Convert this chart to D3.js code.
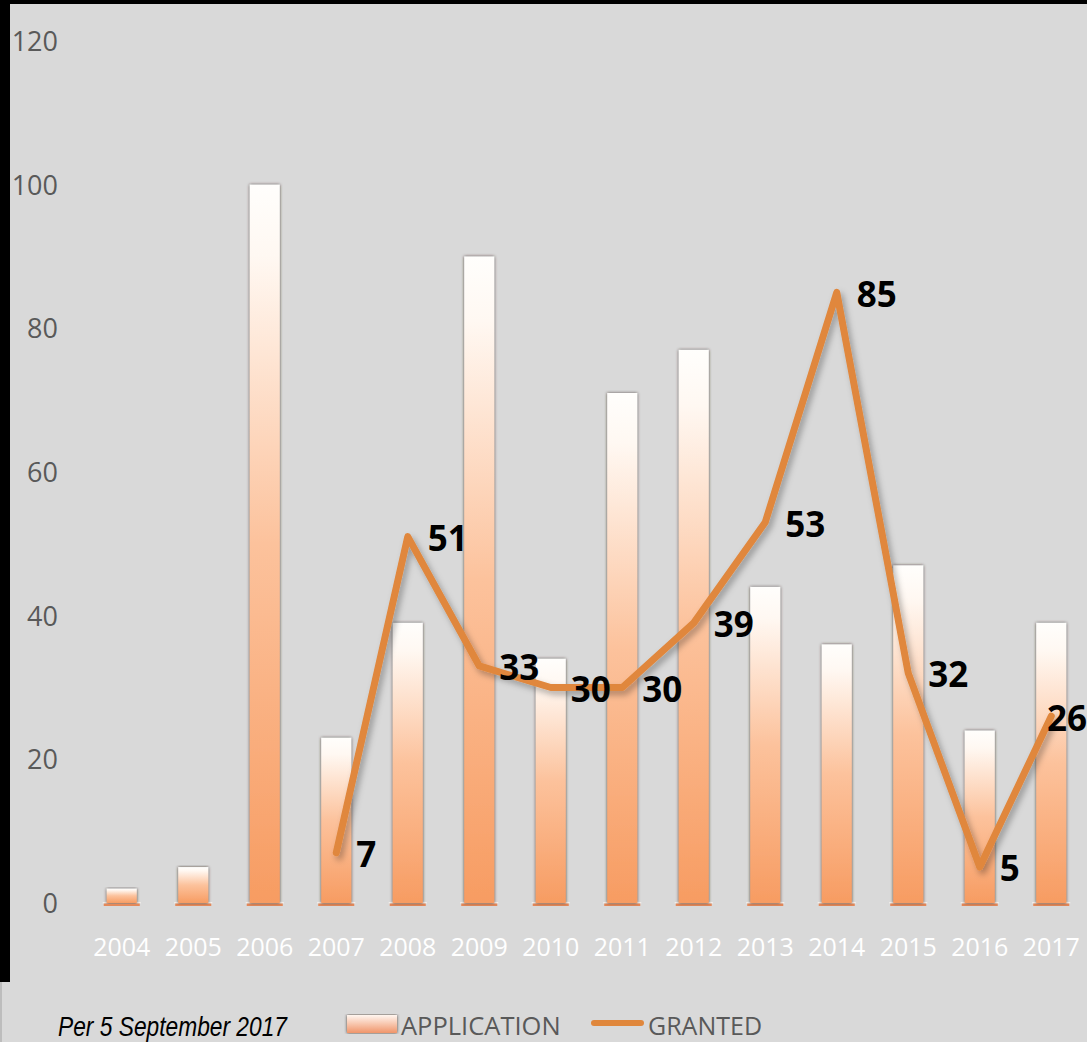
<!DOCTYPE html>
<html>
<head>
<meta charset="utf-8">
<script src="https://cdn.jsdelivr.net/npm/d3@7"></script>
<style>
  html, body { margin: 0; padding: 0; background: #d9d9d9; }
  svg { display: block; }
</style>
</head>
<body>
<div id="chart"></div>
<script>
// data
const years = ["2004","2005","2006","2007","2008","2009","2010","2011","2012","2013","2014","2015","2016","2017"];
const application = [2, 5, 100, 23, 39, 90, 34, 71, 77, 44, 36, 47, 24, 39];
const granted = [null, null, null, 7, 51, 33, 30, 30, 39, 53, 85, 32, 5, 26];
const yTicks = [0, 20, 40, 60, 80, 100, 120];
const noteText = "Per 5 September 2017";
const legendNames = ["APPLICATION", "GRANTED"];

const W = 1087, H = 1042;
const plot = { left: 86, right: 1087, top: 41, bottom: 903 };

const svg = d3.select("#chart").append("svg")
  .attr("width", W).attr("height", H)
  .attr("viewBox", `0 0 ${W} ${H}`);

const defs = svg.append("defs");

const grad = defs.append("linearGradient")
  .attr("id", "barGrad").attr("x1", 0).attr("y1", 0).attr("x2", 0).attr("y2", 1);
grad.append("stop").attr("offset", "0%").attr("stop-color", "#fffefc");
grad.append("stop").attr("offset", "10%").attr("stop-color", "#fff8f2");
grad.append("stop").attr("offset", "50%").attr("stop-color", "#fcc29c");
grad.append("stop").attr("offset", "100%").attr("stop-color", "#f79c62");

const legGrad = defs.append("linearGradient")
  .attr("id", "legGrad").attr("x1", 0).attr("y1", 0).attr("x2", 0).attr("y2", 1);
legGrad.append("stop").attr("offset", "0%").attr("stop-color", "#fff6f0");
legGrad.append("stop").attr("offset", "100%").attr("stop-color", "#f0956a");

const barShadow = defs.append("filter").attr("id", "barShadow")
  .attr("x", "-30%").attr("y", "-5%").attr("width", "160%").attr("height", "110%");
barShadow.append("feDropShadow").attr("dx", 0).attr("dy", 0)
  .attr("stdDeviation", 1.6).attr("flood-color", "#3a2a20").attr("flood-opacity", 0.9);

const lineShadow = defs.append("filter").attr("id", "lineShadow")
  .attr("x", "-10%").attr("y", "-10%").attr("width", "120%").attr("height", "120%");
lineShadow.append("feDropShadow").attr("dx", 3).attr("dy", 4)
  .attr("stdDeviation", 3).attr("flood-color", "#000").attr("flood-opacity", 0.3);

// background and black frame edges
svg.append("rect").attr("width", W).attr("height", H).attr("fill", "#d9d9d9");
svg.append("rect").attr("x", 0).attr("y", 0).attr("width", W).attr("height", 4).attr("fill", "#000");
svg.append("rect").attr("x", 0).attr("y", 0).attr("width", 10).attr("height", 982).attr("fill", "#000");
svg.append("rect").attr("x", 0).attr("y", 982).attr("width", 2).attr("height", H - 982).attr("fill", "#bdbdbd");

const x = d3.scaleBand()
  .domain(years)
  .range([plot.left, plot.right])
  .paddingInner(0.58)
  .paddingOuter(0.29);

const y = d3.scaleLinear()
  .domain([0, 120])
  .range([plot.bottom, plot.top]);

// y axis labels
const yAxis = d3.axisLeft(y).tickValues(yTicks).tickSize(0).tickPadding(0);
const yg = svg.append("g").attr("transform", "translate(58,0)").call(yAxis);
yg.select(".domain").remove();
yg.selectAll("text")
  .attr("fill", "#595959")
  .attr("font-family", "'Open Sans', sans-serif")
  .attr("font-size", 27)
  .attr("dy", "0.35em");

// x axis labels
const xAxis = d3.axisBottom(x).tickSize(0).tickPadding(0);
const xg = svg.append("g").attr("transform", "translate(0,956)").call(xAxis);
xg.select(".domain").remove();
xg.selectAll("text")
  .attr("fill", "#ffffff")
  .attr("font-family", "'Open Sans', sans-serif")
  .attr("font-size", 25)
  .attr("dy", 0);

// bars
const bw = x.bandwidth();
const barG = svg.append("g");
barG.selectAll(".base").data(years).enter().append("rect")
  .attr("x", d => x(d) - 4).attr("y", plot.bottom - 1)
  .attr("width", bw + 8).attr("height", 1.5).attr("fill", "#f4f0ec");
barG.selectAll(".base2").data(years).enter().append("rect")
  .attr("x", d => x(d) - 3).attr("y", plot.bottom + 0.5)
  .attr("width", bw + 6).attr("height", 2.5).attr("fill", "#e4895a");
barG.selectAll(".bar").data(application).enter().append("rect")
  .attr("x", (d, i) => x(years[i]))
  .attr("y", d => y(d))
  .attr("width", bw)
  .attr("height", d => y(0) - y(d))
  .attr("fill", "url(#barGrad)")
  .attr("filter", "url(#barShadow)");

// granted line
const pts = granted.map((v, i) => ({ year: years[i], v })).filter(p => p.v !== null);
const line = d3.line()
  .x(p => x(p.year) + bw / 2)
  .y(p => y(p.v));

svg.append("path")
  .datum(pts)
  .attr("d", line)
  .attr("fill", "none")
  .attr("stroke", "#e0873c")
  .attr("stroke-width", 7)
  .attr("stroke-linejoin", "round")
  .attr("stroke-linecap", "round")
  .attr("filter", "url(#lineShadow)");

// value labels
const labels = svg.append("g")
  .attr("font-family", "'Open Sans', sans-serif")
  .attr("font-weight", "bold")
  .attr("font-size", 35)
  .attr("fill", "#000");
labels.selectAll("text").data(pts).enter().append("text")
  .attr("x", p => x(p.year) + bw / 2 + 20)
  .attr("y", p => y(p.v) + 5)
  .attr("dominant-baseline", "middle")
  .text(p => p.v)
  .each(function () {
    const t = d3.select(this);
    const w = this.getComputedTextLength();
    const x0 = +t.attr("x");
    if (x0 + w > W) t.attr("x", W - w);
  });

// footnote and legend
svg.append("text")
  .attr("x", 58).attr("y", 1036)
  .attr("font-family", "'Liberation Sans Narrow', 'Liberation Sans', sans-serif")
  .attr("font-style", "italic")
  .attr("font-size", 27)
  .attr("fill", "#000")
  .attr("textLength", 229)
  .attr("lengthAdjust", "spacingAndGlyphs")
  .text(noteText);

svg.append("rect")
  .attr("x", 347).attr("y", 1015).attr("width", 50).attr("height", 18)
  .attr("fill", "url(#legGrad)")
  .attr("filter", "url(#barShadow)");
svg.append("text")
  .attr("x", 401).attr("y", 1035)
  .attr("font-family", "'Open Sans', sans-serif")
  .attr("font-size", 25.5)
  .attr("fill", "#595959")
  .text(legendNames[0]);

svg.append("line")
  .attr("x1", 594).attr("x2", 641).attr("y1", 1023).attr("y2", 1023)
  .attr("stroke", "#e0873c").attr("stroke-width", 6).attr("stroke-linecap", "round");
svg.append("text")
  .attr("x", 648).attr("y", 1035)
  .attr("font-family", "'Open Sans', sans-serif")
  .attr("font-size", 25)
  .attr("fill", "#595959")
  .text(legendNames[1]);
</script>
</body>
</html>
